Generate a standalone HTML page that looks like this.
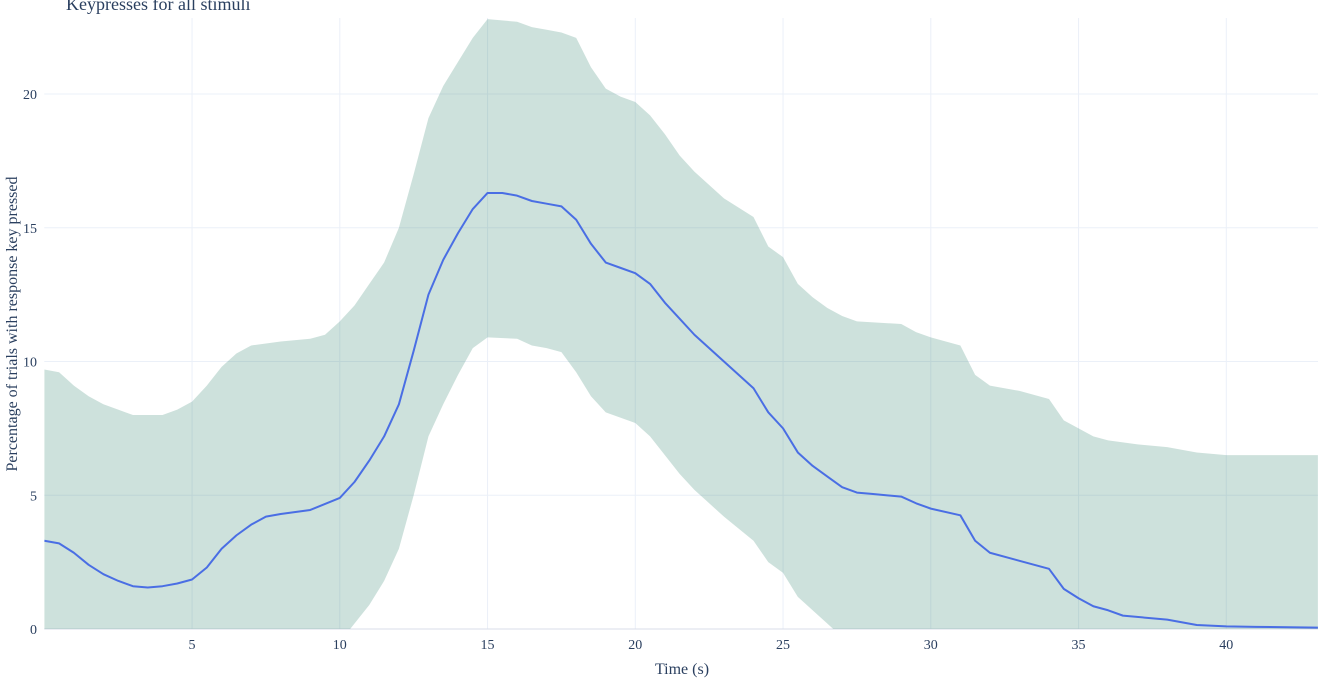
<!DOCTYPE html>
<html><head><meta charset="utf-8"><style>
body{margin:0;background:#fff;}
svg{display:block;font-family:"Liberation Serif",serif;}
</style></head><body>
<svg id="chart" width="1320" height="680">
<text x="66" y="10" font-size="18" fill="#2a3f5f">Keypresses for all stimuli</text>
<g id="grid"></g><g id="band"></g><g id="line"></g><g id="ticks"></g>
<text x="682" y="674" font-size="16" fill="#2a3f5f" text-anchor="middle">Time (s)</text>
<text transform="translate(17,324) rotate(-90)" font-size="16" fill="#2a3f5f" text-anchor="middle">Percentage of trials with response key pressed</text>
</svg>
<script>
const meanT=[0,0.5,1,1.5,2,2.5,3,3.5,4,4.5,5,5.5,6,6.5,7,7.5,8,9,10,10.5,11,11.5,12,12.5,13,13.5,14,14.5,15,15.5,16,16.5,17,17.5,18,18.5,19,19.5,20,20.5,21,21.5,22,22.5,23,23.5,24,24.5,25,25.5,26,26.5,27,27.5,28,29,29.5,30,31,31.5,32,33,34,34.5,35,35.5,36,36.5,38,39,40,41,43.1];
const meanV=[3.3,3.2,2.85,2.4,2.05,1.8,1.6,1.55,1.6,1.7,1.85,2.3,3.0,3.5,3.9,4.2,4.3,4.45,4.9,5.5,6.3,7.2,8.4,10.4,12.5,13.8,14.8,15.7,16.3,16.3,16.2,16.0,15.9,15.8,15.3,14.4,13.7,13.5,13.3,12.9,12.2,11.6,11.0,10.5,10.0,9.5,9.0,8.1,7.5,6.6,6.1,5.7,5.3,5.1,5.05,4.95,4.7,4.5,4.25,3.3,2.85,2.55,2.25,1.5,1.15,0.85,0.7,0.5,0.35,0.15,0.1,0.08,0.05];
const upT=[0,0.5,1,1.5,2,2.5,3,4,4.5,5,5.5,6,6.5,7,8,9,9.5,10,10.5,11,11.5,12,12.5,13,13.5,14,14.5,15,16,16.5,17,17.5,18,18.5,19,19.5,20,20.5,21,21.5,22,22.5,23,24,24.5,25,25.5,26,26.5,27,27.5,29,29.5,30,31,31.5,32,33,34,34.5,35,35.5,36,37,38,39,40,43.1];
const upV=[9.7,9.6,9.1,8.7,8.4,8.2,8.0,8.0,8.2,8.5,9.1,9.8,10.3,10.6,10.75,10.85,11.0,11.5,12.1,12.9,13.7,15.0,17.0,19.1,20.3,21.2,22.1,22.8,22.7,22.5,22.4,22.3,22.1,21.0,20.2,19.9,19.7,19.2,18.5,17.7,17.1,16.6,16.1,15.4,14.3,13.9,12.9,12.4,12.0,11.7,11.5,11.4,11.1,10.9,10.6,9.5,9.1,8.9,8.6,7.8,7.5,7.2,7.05,6.9,6.8,6.6,6.5,6.5];
const loT=[0,10.35,11,11.5,12,12.5,13,13.5,14,14.5,15,16,16.5,17,17.5,18,18.5,19,20,20.5,21,21.5,22,22.5,23,24,24.5,25,25.5,26,26.5,26.7,43.1];
const loV=[0,0,0.9,1.8,3.0,5.0,7.2,8.4,9.5,10.5,10.9,10.85,10.6,10.5,10.35,9.6,8.7,8.1,7.7,7.2,6.5,5.8,5.2,4.7,4.2,3.3,2.5,2.1,1.2,0.7,0.2,0,0];
const xTicks=[5,10,15,20,25,30,35,40];
const yTicks=[0,5,10,15,20];
const X0=44.3,XS=29.55,Y0=629,YS=26.75;
const sx=t=>X0+t*XS, sy=v=>Y0-v*YS;
const NS="http://www.w3.org/2000/svg";
function mk(tag,parent,attrs){const e=document.createElementNS(NS,tag);for(const k in attrs)e.setAttribute(k,attrs[k]);document.getElementById(parent).appendChild(e);return e;}
xTicks.forEach(t=>{
 const g=mk('line','grid',{x1:sx(t),x2:sx(t),y1:18,y2:Y0,stroke:'#ebf0f8','stroke-width':1});
 
 
 const l=mk('text','ticks',{x:sx(t),y:649,'font-size':14,fill:'#2a3f5f','text-anchor':'middle'});l.textContent=t;
 
 
});
yTicks.forEach(v=>{
 const g=mk('line','grid',{x1:X0,x2:1318,y1:sy(v),y2:sy(v),stroke:v===0?'#d8dde8':'#ebf0f8','stroke-width':1});
 
 
 const l=mk('text','ticks',{x:37,y:sy(v)+5,'font-size':14,fill:'#2a3f5f','text-anchor':'end'});l.textContent=v;
 
 
});
let d='M'+upT.map((t,i)=>sx(t)+','+sy(upV[i])).join('L');
for(let i=loT.length-1;i>=0;i--)d+='L'+sx(loT[i])+','+sy(loV[i]);
d+='Z';
const b=mk('path','band',{d:d,fill:'rgba(47,128,110,0.24)',stroke:'none'});


const ln=mk('path','line',{d:'M'+meanT.map((t,i)=>sx(t)+','+sy(meanV[i])).join('L'),fill:'none',stroke:'#4a6ee4','stroke-width':2,'stroke-linejoin':'round'});


const c=document.createElementNS(NS,'clipPath');c.id='cp';const r=document.createElementNS(NS,'rect');
r.setAttribute('x',X0);r.setAttribute('y',18);r.setAttribute('width',1318-X0);r.setAttribute('height',Y0-18+1);c.appendChild(r);
document.getElementById('chart').appendChild(c);
document.getElementById('band').setAttribute('clip-path','url(#cp)');
document.getElementById('line').setAttribute('clip-path','url(#cp)');
</script>
</body></html>
